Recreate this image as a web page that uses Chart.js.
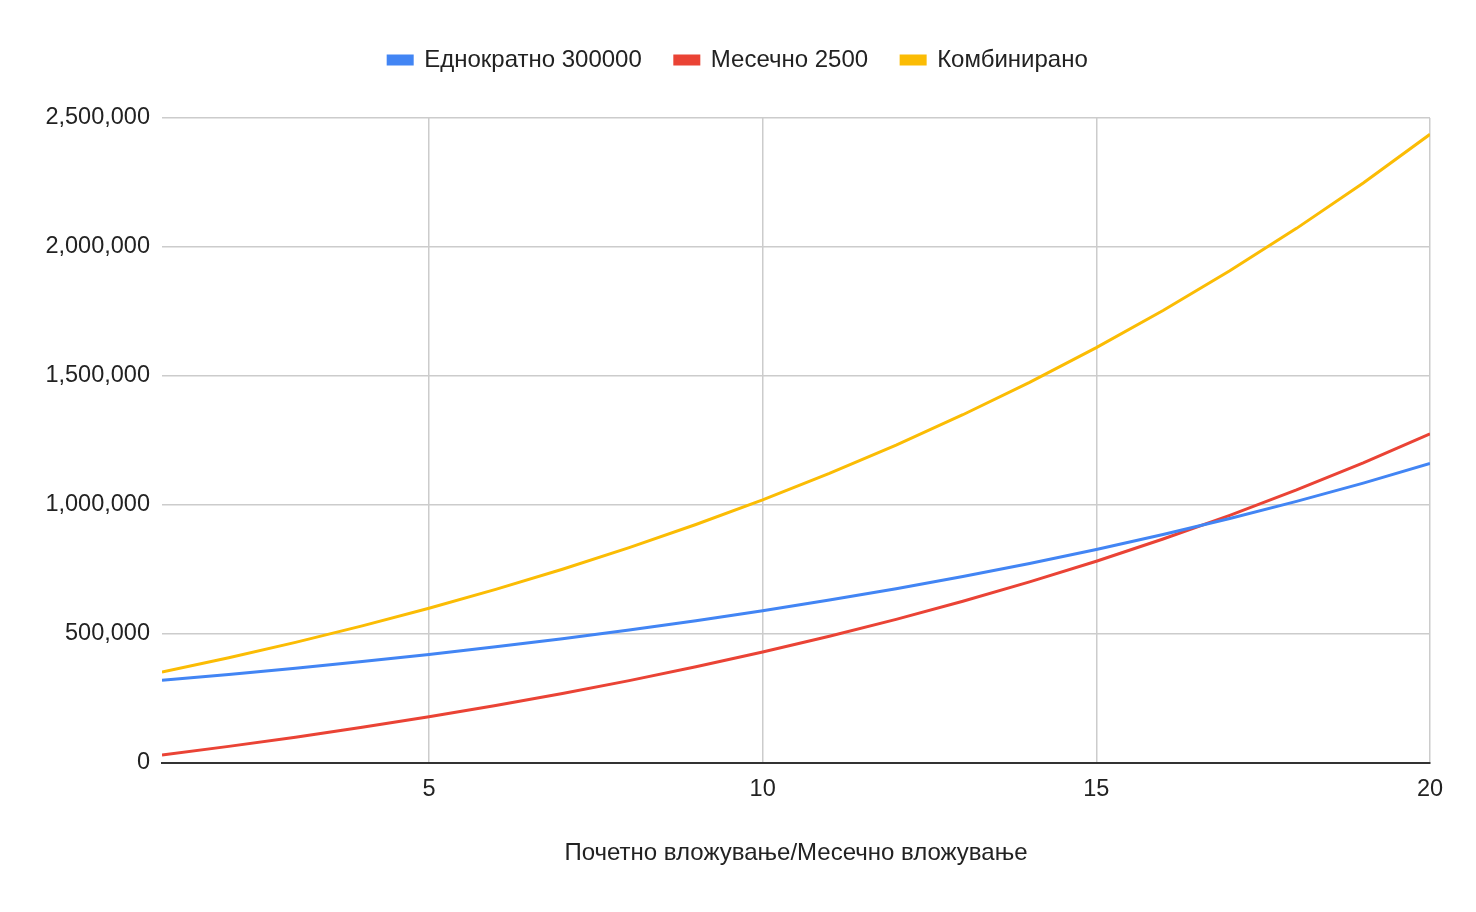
<!DOCTYPE html>
<html>
<head>
<meta charset="utf-8">
<script src="https://cdn.jsdelivr.net/npm/chart.js@4.4.1/dist/chart.umd.min.js"></script>
<style>
  body { margin: 0; background: #fff; }
  #wrap { width: 1476px; height: 912px; }
</style>
</head>
<body>
<div id="wrap"><canvas id="chart" width="1476" height="912"></canvas></div>
<script>
// years 1..20
const years = [1, 2, 3, 4, 5, 6, 7, 8, 9, 10, 11, 12, 13, 14, 15, 16, 17, 18, 19, 20];
const lumpSum = [321000, 343470, 367513, 393239, 420766, 450219, 481734, 515456, 551538, 590145,
  631456, 675658, 722954, 773560, 827710, 885649, 947645, 1013980, 1084958, 1160905];
const monthly = [31126, 64430, 100067, 138197, 178997, 222652, 269363, 319345, 372825, 430049,
  491280, 556794, 626895, 701904, 782163, 868040, 959929, 1058249, 1163452, 1276019];
const combined = [352126, 407900, 467580, 531436, 599763, 672871, 751097, 834801, 924363, 1020194,
  1122736, 1232452, 1349849, 1475464, 1609873, 1753689, 1907574, 2072229, 2248410, 2436924];
const xTicks = [5, 10, 15, 20];
const seriesNames = ['Еднократно 300000', 'Месечно 2500', 'Комбинирано'];
const colors = ['#4285F4', '#EA4335', '#FBBC04'];

Chart.defaults.font.family = '"Liberation Sans", Arial, sans-serif';
Chart.defaults.font.size = 24;
Chart.defaults.color = '#222';

const toPts = arr => arr.map((v, i) => ({ x: years[i], y: v }));

// fixed legend height so the plot starts lower, and center it on the full canvas
const legendLayout = {
  id: 'legendLayout',
  beforeInit(chart) {
    const fit = chart.legend.fit;
    chart.legend.fit = function () {
      fit.bind(chart.legend)();
      this.height = 103;
    };
  },
  afterLayout(chart) {
    chart.legend.left = 0;
    chart.legend.right = chart.width;
  },
};

const ctx = document.getElementById('chart').getContext('2d');
new Chart(ctx, {
  type: 'line',
  data: {
    datasets: [lumpSum, monthly, combined].map((arr, i) => ({
      label: seriesNames[i],
      data: toPts(arr),
      borderColor: colors[i],
      backgroundColor: colors[i],
      borderWidth: 3,
      pointRadius: 0,
      tension: 0,
      fill: false,
    })),
  },
  options: {
    responsive: false,
    animation: false,
    layout: { padding: { top: 15, right: 46, left: 0, bottom: 44 } },
    plugins: {
      legend: {
        position: 'top',
        labels: {
          boxWidth: 24,
          boxHeight: 8,
          padding: 33,
          color: '#222',
        },
      },
      tooltip: { enabled: false },
    },
    scales: {
      x: {
        type: 'linear',
        min: 1,
        max: 20,
        afterBuildTicks: (scale) => {
          scale.ticks = xTicks.map(v => ({ value: v }));
        },
        grid: {
          color: '#cccccc',
          lineWidth: 1.5,
          drawTicks: false,
        },
        border: { color: '#333', width: 2 },
        ticks: { padding: 12, color: '#222', font: { size: 23.5 } },
        title: {
          display: true,
          text: 'Почетно вложување/Месечно вложување',
          color: '#222',
          padding: { top: 24, bottom: 0 },
        },
      },
      y: {
        min: 0,
        max: 2500000,
        afterFit: (scale) => { scale.width = 162; },
        ticks: { stepSize: 500000, padding: 12, color: '#222', font: { size: 23.5 } },
        grid: {
          color: (c) => (c.tick && c.tick.value === 0 ? '#333' : '#cccccc'),
          lineWidth: (c) => (c.tick && c.tick.value === 0 ? 2 : 1.5),
          drawTicks: false,
        },
        border: { display: false },
      },
    },
  },
  plugins: [legendLayout],
});
</script>
</body>
</html>
